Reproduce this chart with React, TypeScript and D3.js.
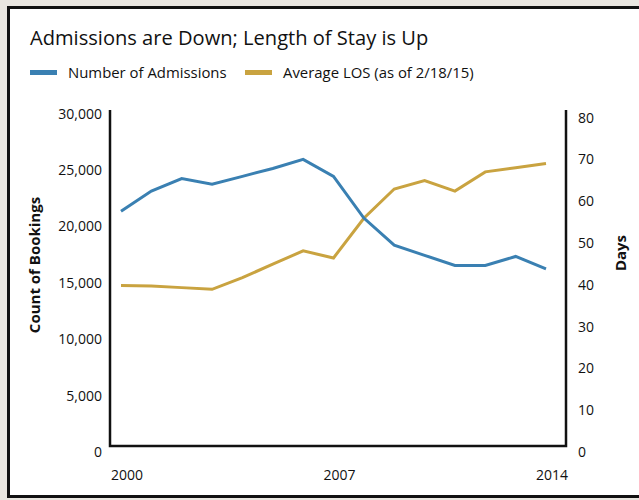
import * as d3 from 'd3';
import { useEffect, useRef } from 'react';

const years = [2000, 2001, 2002, 2003, 2004, 2005, 2006, 2007, 2008, 2009, 2010, 2011, 2012, 2013, 2014];
const admissions = [20800, 22600, 23700, 23200, 23900, 24600, 25400, 23900, 20200, 17800, 16900, 16000, 16000, 16800, 15700];
const avgLos = [38.4, 38.3, 37.9, 37.5, 40.3, 43.5, 46.7, 45.0, 54.5, 61.5, 63.5, 61.0, 65.6, 66.6, 67.6];

const countTicks = [0, 5000, 10000, 15000, 20000, 25000, 30000];
const dayTicks = [0, 10, 20, 30, 40, 50, 60, 70, 80];
const yearTicks = [2000, 2007, 2014];

const BLUE = '#3a80b2';
const GOLD = '#c9a340';
const FONT = '"Open Sans", "Noto Sans", sans-serif';

function App() {
  const svgRef = useRef<SVGSVGElement | null>(null);

  useEffect(() => {
    document.body.style.margin = '0';
    document.body.style.overflow = 'hidden';
    if (!svgRef.current) {
      return;
    }

    const width = 639;
    const height = 500;
    const plot = { left: 110, right: 566, top: 110, bottom: 446 };

    const x = d3.scaleLinear().domain([2000, 2014]).range([121, 546]);
    const yCount = d3.scaleLinear().domain([0, 30000]).range([plot.bottom, 107.5]);
    const yDays = d3.scaleLinear().domain([0, 80]).range([plot.bottom, 111.7]);

    const svg = d3.select(svgRef.current);
    svg.selectAll('*').remove();
    svg.attr('width', width).attr('height', height).style('font-family', FONT);

    svg.append('rect').attr('width', width).attr('height', height).attr('fill', '#e9e6e0');
    svg
      .append('rect')
      .attr('x', 8.5)
      .attr('y', 7.5)
      .attr('width', 700)
      .attr('height', 489)
      .attr('fill', '#ffffff')
      .attr('stroke', '#111111')
      .attr('stroke-width', 3);

    svg
      .append('text')
      .attr('x', 30)
      .attr('y', 45)
      .attr('font-size', 20.1)
      .attr('fill', '#111')
      .text('Admissions are Down; Length of Stay is Up');

    const legend = [
      { label: 'Number of Admissions', color: BLUE, x: 30 },
      { label: 'Average LOS (as of 2/18/15)', color: GOLD, x: 245 },
    ];
    const legendGroup = svg.append('g');
    legend.forEach((item) => {
      legendGroup
        .append('rect')
        .attr('x', item.x)
        .attr('y', 70)
        .attr('width', 27)
        .attr('height', 5)
        .attr('fill', item.color);
      legendGroup
        .append('text')
        .attr('x', item.x + 38)
        .attr('y', 78)
        .attr('font-size', 14.9)
        .attr('fill', '#111')
        .text(item.label);
    });

    // axes frame
    const axes = svg.append('g').attr('stroke', '#111').attr('stroke-width', 2.5).attr('fill', 'none');
    axes
      .append('path')
      .attr('d', `M${plot.left},${plot.top}V${plot.bottom}H${plot.right}V${plot.top}`);

    svg
      .append('g')
      .selectAll('text')
      .data(countTicks)
      .join('text')
      .attr('x', 102)
      .attr('y', (d) => yCount(d) + 11)
      .attr('text-anchor', 'end')
      .attr('font-size', 14)
      .attr('fill', '#111')
      .text((d) => d3.format(',')(d));

    svg
      .append('g')
      .selectAll('text')
      .data(dayTicks)
      .join('text')
      .attr('x', 578)
      .attr('y', (d) => yDays(d) + 11)
      .attr('font-size', 14)
      .attr('fill', '#111')
      .text((d) => String(d));

    svg
      .append('g')
      .selectAll('text')
      .data(yearTicks)
      .join('text')
      .attr('x', (d) => x(d) + 6)
      .attr('y', 480)
      .attr('text-anchor', 'middle')
      .attr('font-size', 14)
      .attr('fill', '#111')
      .text((d) => String(d));

    svg
      .append('text')
      .attr('transform', 'translate(40,265) rotate(-90)')
      .attr('text-anchor', 'middle')
      .attr('font-size', 15)
      .attr('font-weight', 700)
      .attr('fill', '#111')
      .text('Count of Bookings');

    svg
      .append('text')
      .attr('transform', 'translate(626,253) rotate(-90)')
      .attr('text-anchor', 'middle')
      .attr('font-size', 15)
      .attr('font-weight', 700)
      .attr('fill', '#111')
      .text('Days');

    const countLine = d3
      .line<number>()
      .x((_, i) => x(years[i]))
      .y((d) => yCount(d));
    const daysLine = d3
      .line<number>()
      .x((_, i) => x(years[i]))
      .y((d) => yDays(d));

    svg
      .append('path')
      .attr('d', daysLine(avgLos))
      .attr('fill', 'none')
      .attr('stroke', GOLD)
      .attr('stroke-width', 3);

    svg
      .append('path')
      .attr('d', countLine(admissions))
      .attr('fill', 'none')
      .attr('stroke', BLUE)
      .attr('stroke-width', 3);
  }, []);

  return <svg ref={svgRef} style={{ display: 'block' }} />;
}

export default App;
